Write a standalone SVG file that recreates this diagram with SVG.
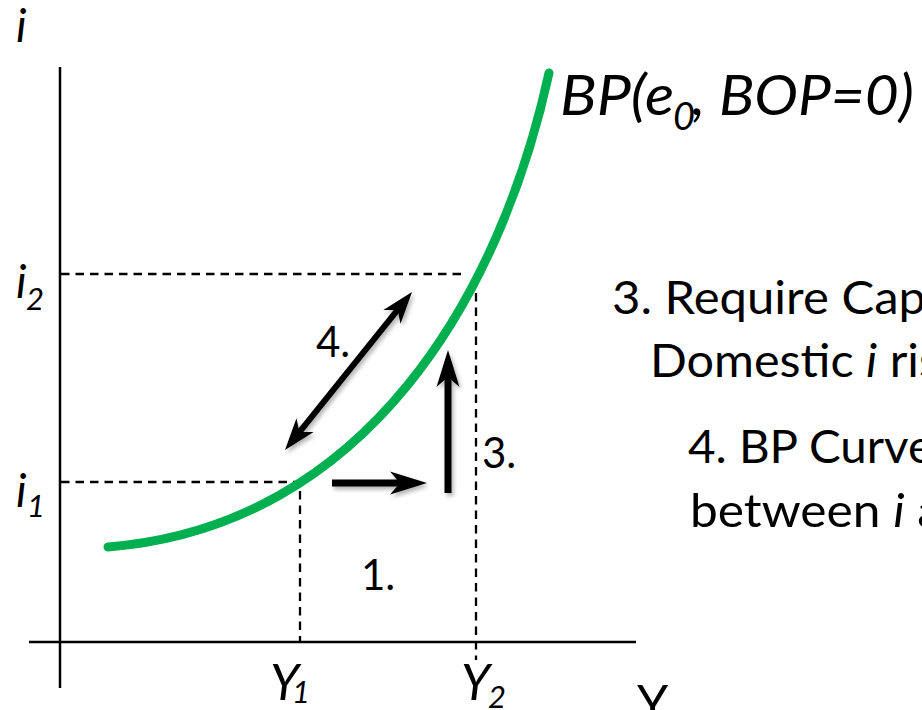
<svg xmlns="http://www.w3.org/2000/svg" width="922" height="710" viewBox="0 0 922 710">
<style>
.axis{stroke:#000;stroke-width:2.5;fill:none}
.dash{stroke:#000;stroke-width:2.3;stroke-dasharray:8.5 6;fill:none}
.curve{stroke:#00B050;stroke-width:9;fill:none;stroke-linecap:round}
.arr{stroke:#000;fill:none}
.t{font-family:Lato,"Open Sans",sans-serif;fill:#000}
.it{font-style:italic}
</style>
<defs>
<marker id="head" markerUnits="userSpaceOnUse" viewBox="0 -12 38 24" markerWidth="38" markerHeight="24" refX="10" refY="0" orient="auto">
<path d="M0,-11.5 L37,0 L0,11.5 L10,0 Z" fill="#000"/>
</marker>
<marker id="head2" markerUnits="userSpaceOnUse" viewBox="0 -12 34 24" markerWidth="34" markerHeight="24" refX="9" refY="0" orient="auto-start-reverse">
<path d="M0,-11 L32,0 L0,11 L9,0 Z" fill="#000"/>
</marker>
<filter id="sh" x="-30%" y="-30%" width="160%" height="160%">
<feDropShadow dx="2" dy="3" stdDeviation="2" flood-color="#000" flood-opacity="0.3"/>
</filter>
</defs>

<g id="axes">
<line class="axis" x1="60" y1="67" x2="60" y2="688"/>
<line class="axis" x1="29" y1="642" x2="636" y2="642"/>
</g>

<g id="guides">
<line class="dash" x1="61" y1="274" x2="462" y2="274"/>
<line class="dash" x1="476" y1="293" x2="476" y2="660"/>
<line class="dash" x1="61" y1="482" x2="300" y2="482"/>
<line class="dash" x1="300" y1="491" x2="300" y2="641"/>
</g>

<g id="bp-curve">
<path class="curve" d="M108,547 C368,526 501,293 549,73"/>
</g>

<g id="connectors" filter="url(#sh)">
<line class="arr" stroke-width="7" x1="332" y1="483" x2="400" y2="483" marker-end="url(#head)"/>
<line class="arr" stroke-width="7" x1="448" y1="493" x2="448" y2="377" marker-end="url(#head)"/>
<line class="arr" stroke-width="6" x1="299.4" y1="432.1" x2="397.6" y2="309.9" marker-start="url(#head2)" marker-end="url(#head2)"/>
</g>

<g id="axis-labels">
<text class="t it" x="16" y="42" font-size="46">i</text>
<text class="t it" x="16" y="298" font-size="46">i</text>
<text class="t it" x="26" y="310" font-size="31">2</text>
<text class="t it" x="16" y="507" font-size="46">i</text>
<text class="t it" x="27" y="517" font-size="31">1</text>
<text class="t it" x="270" y="700" font-size="50">Y</text>
<text class="t it" x="292" y="703" font-size="31">1</text>
<text class="t it" x="461" y="700" font-size="50">Y</text>
<text class="t it" x="488" y="708" font-size="31">2</text>
<text class="t" x="637" y="721" font-size="50">Y</text>
</g>

<g id="bp-label">
<text class="t it" x="560" y="115" font-size="56" textLength="114" lengthAdjust="spacingAndGlyphs">BP(e</text>
<text class="t it" x="673" y="130" font-size="38">0</text>
<text class="t it" x="692" y="115" font-size="56" textLength="222" lengthAdjust="spacingAndGlyphs">, BOP=0)</text>
</g>

<g id="step-labels">
<text class="t" x="316" y="357" font-size="42">4.</text>
<text class="t" x="482" y="468" font-size="42">3.</text>
<text class="t" x="361" y="590" font-size="42">1.</text>
</g>

<g id="notes">
<text class="t" x="612" y="314" font-size="47" textLength="314" lengthAdjust="spacingAndGlyphs">3. Require Cap</text>
<text class="t" x="650" y="377" font-size="47" textLength="290" lengthAdjust="spacingAndGlyphs">Domestic <tspan class="it">i</tspan> ris</text>
<text class="t" x="688" y="463" font-size="47" textLength="245" lengthAdjust="spacingAndGlyphs">4. BP Curve</text>
<text class="t" x="690" y="527" font-size="47" textLength="252" lengthAdjust="spacingAndGlyphs">between <tspan class="it">i</tspan> a</text>
</g>
</svg>
